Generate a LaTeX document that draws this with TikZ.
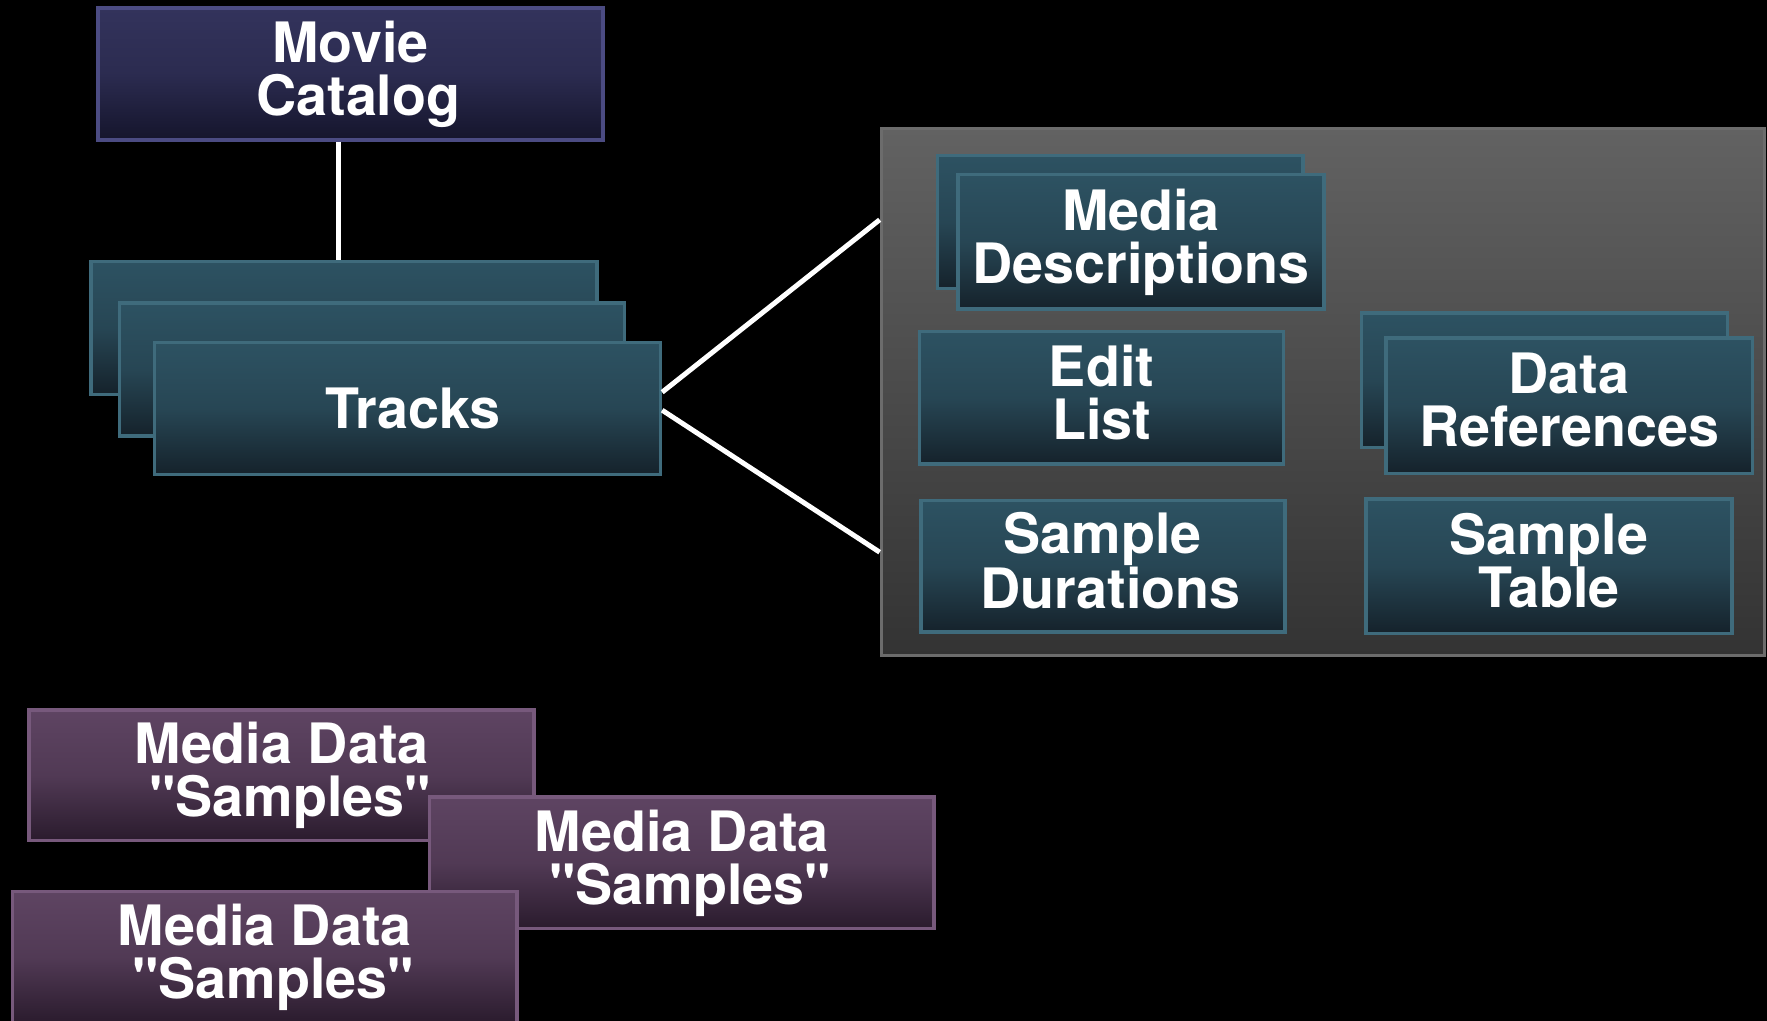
\documentclass[tikz,border=0pt]{standalone}
\usepackage{fontspec}
\setmainfont{TeX Gyre Heros}
\usetikzlibrary{calc}

\definecolor{navytop}{HTML}{33335C}
\definecolor{navybot}{HTML}{15152C}
\definecolor{navyline}{HTML}{4B4B82}
\definecolor{tealtop}{HTML}{2D5262}
\definecolor{tealbot}{HTML}{15222B}
\definecolor{tealline}{HTML}{3F6B7C}
\definecolor{plumtop}{HTML}{5E4462}
\definecolor{plumbot}{HTML}{2A1B2D}
\definecolor{plumline}{HTML}{77597C}
\definecolor{greytop}{HTML}{626262}
\definecolor{greybot}{HTML}{333333}
\definecolor{greyline}{HTML}{6C6C6C}

\newcommand\boxfont{\fontsize{24.7pt}{23.5pt}\selectfont\bfseries}
\newcommand\qq{\textquotedbl}

\begin{document}
\begin{tikzpicture}[x=0.5pt, y=-0.5pt,
  box/.style={draw, line width=1.6pt, inner sep=0pt, align=center,
    text=white, font=\boxfont},
  twoline/.style={text depth=5.2pt},
  navybox/.style={box, draw=navyline, top color=navytop, bottom color=navybot,
    middle color=navytop!75!navybot},
  tealbox/.style={box, draw=tealline, top color=tealtop, bottom color=tealbot,
    middle color=tealtop!75!tealbot},
  plumbox/.style={box, draw=plumline, top color=plumtop, bottom color=plumbot,
    middle color=plumtop!75!plumbot},
  panelbox/.style={draw=greyline, line width=1.4pt, top color=greytop,
    bottom color=greybot, inner sep=0pt},
  link/.style={draw=white, line width=2.2pt}]

\useasboundingbox (0,0) rectangle (1568,906);
\fill[black] (0,0) rectangle (1568,906);
\clip (0,0) rectangle (1568,906);

% movie header
\node[navybox, twoline, minimum width=224pt, minimum height=58.5pt] (movie) at (311,65.5)
  {Movie\\\hspace*{0.28em}Catalog};

% stack of tracks
\node[tealbox, minimum width=224.5pt, minimum height=59pt] (trkA) at (305.5,291) {};
\node[tealbox, minimum width=224pt, minimum height=59pt] (trkB) at (330,328) {};
\node[tealbox, minimum width=224.5pt, minimum height=58.5pt] (tracks) at (361.5,362.5)
  {\hspace*{0.2em}Tracks};

% track contents panel
\node[panelbox, minimum width=392pt, minimum height=234pt] (panel) at (1174,348) {};

\node[tealbox, minimum width=162pt, minimum height=59pt] (mdescA) at (994,197) {};
\node[tealbox, twoline, minimum width=162.5pt, minimum height=59.5pt] (mdesc) at (1012.5,214.5)
  {Media\\Descriptions};
\node[tealbox, twoline, minimum width=161.5pt, minimum height=59pt] (edit) at (977.5,353)
  {Edit\\List};
\node[tealbox, minimum width=162.5pt, minimum height=59.5pt] (drefA) at (1370.5,337.5) {};
\node[tealbox, twoline, minimum width=162.5pt, minimum height=60pt] (dref) at (1392.5,360)
  {Data\\References};
\node[tealbox, twoline, minimum width=161.5pt, minimum height=58.5pt] (sdur) at (978.5,502.5)
  {Sample\\\hspace*{0.28em}Durations};
\node[tealbox, twoline, minimum width=162.5pt, minimum height=59.5pt] (stab) at (1374.5,502.5)
  {Sample\\Table};

% connectors
\draw[link] ([xshift=-5.5pt]movie.south) -- ([xshift=-5.5pt]movie.south |- trkA.north);
\draw[link] ([yshift=7.25pt]tracks.east) -- ([yshift=76.5pt]panel.west);
\draw[link] ([yshift=-0.75pt]tracks.east) -- ([yshift=-71pt]panel.west);

% media data samples
\node[plumbox, twoline, minimum width=224pt, minimum height=58pt] (mdata1) at (250,688)
  {Media Data\\\hspace*{0.3em}\qq Samples\qq};
\node[plumbox, twoline, minimum width=224pt, minimum height=58.5pt] (mdata2) at (605,765.5)
  {Media Data\\\hspace*{0.3em}\qq Samples\qq};
\node[plumbox, twoline, minimum width=224pt, minimum height=58.5pt] (mdata3) at (235,849.5)
  {Media Data\\\hspace*{0.3em}\qq Samples\qq};
\end{tikzpicture}
\end{document}
